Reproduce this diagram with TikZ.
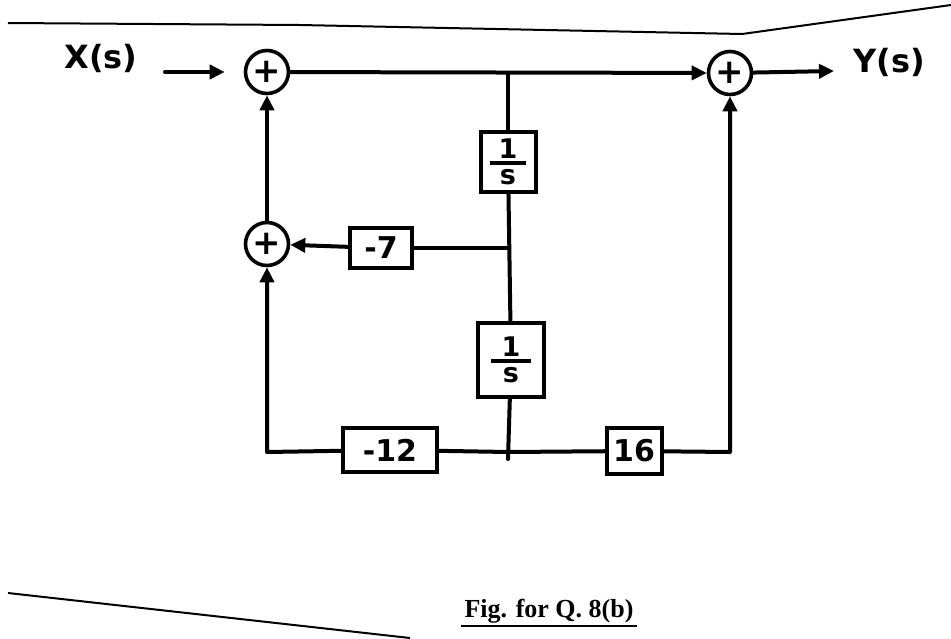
\documentclass[tikz,border=0pt]{standalone}
\usepackage{fontspec}
\setmainfont{DejaVu Sans}
\newfontfamily\capfont{Liberation Serif}
\usetikzlibrary{arrows.meta}
\begin{document}
\begin{tikzpicture}[x=1pt,y=-1pt,
  wire/.style={line width=4pt, line cap=round, line join=round},
  arr/.style={wire, -{Triangle[length=15pt,width=14pt]}},
  sumnode/.style={circle, draw, line width=3.6pt, minimum size=43pt, inner sep=0pt,
    font=\fontsize{34}{34}\selectfont\bfseries},
  blk/.style={draw, line width=4pt, inner sep=0pt,
    font=\fontsize{30}{30}\selectfont\bfseries},
  fracblk/.style={blk, font=\fontsize{27}{27}\selectfont\bfseries},
  lbl/.style={font=\fontsize{32}{32}\selectfont\bfseries},
  border/.style={line width=2pt}]
\useasboundingbox[fill=white] (0,0) rectangle (951,638);

% page edges of the scan
\draw[border] (8,23) -- (300,25) -- (742,34) -- (951,5);
\draw[border] (8,593) -- (410,638);

% summing junctions
\node[sumnode] (sum1) at (267,72) {+};
\node[sumnode] (sum3) at (267,244) {+};
\node[sumnode] (sum2) at (730,73) {+};

% blocks
\node[fracblk, minimum width=55pt, minimum height=60pt] (g1) at (508,162)
  {\shortstack{1\\[0pt]\rule{36pt}{3.5pt}\\[2pt]s}};
\node[fracblk, minimum width=66pt, minimum height=74pt] (g2) at (511,360)
  {\shortstack{1\\[0pt]\rule{40pt}{3.5pt}\\[2pt]s}};
\node[blk, minimum width=62pt, minimum height=40pt] (k7) at (381,248) {-7};
\node[blk, minimum width=94pt, minimum height=44pt] (k12) at (390,450) {-12};
\node[blk, minimum width=55pt, minimum height=46pt] (k16) at (634,451) {16};

% labels
\node[lbl] (xs) at (101,58) {X(s)};
\node[lbl] (ys) at (889,62) {Y(s)};

% coordinates
\coordinate (xin) at (165,72);
\coordinate (yout) at (834,71);
\coordinate (j1) at (508,73);
\coordinate (j2) at (508,248);
\coordinate (j3) at (508,452);
\coordinate (stub) at (508,459);
\coordinate (cl) at (267,452);
\coordinate (cr) at (730,452);

% connectors
\draw[arr, shorten >=19pt] (xin) -- (sum1.west);
\draw[arr] (sum1) -- (sum2);
\draw[arr] (sum2) -- (yout);
\draw[wire] (j1) -- (g1);
\draw[wire] (g1) -- (g2);
\draw[wire] (g2) -- (stub);
\draw[wire] (j2) -- (k7);
\draw[arr] (k7) -- (sum3);
\draw[arr] (sum3) -- (sum1);
\draw[wire] (j3) -- (k12);
\draw[arr] (k12) -- (cl) -- (sum3);
\draw[wire] (j3) -- (k16);
\draw[arr] (k16) -- (cr) -- (sum2);

% caption
\node[font=\capfont\bfseries\fontsize{26}{26}\selectfont, anchor=base] (cap) at (549,617)
  {Fig. for Q. 8(b)};
\draw[line width=1.6pt] ([yshift=-9pt]cap.base west) -- ([yshift=-9pt]cap.base east);
\end{tikzpicture}
\end{document}
